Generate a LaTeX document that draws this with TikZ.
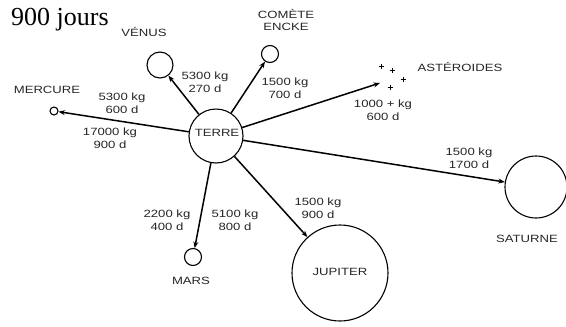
\documentclass[tikz,border=0pt]{standalone}
\usepackage{fontspec}
\setmainfont{Liberation Sans}
\newfontfamily\labfont[FakeStretch=1.25]{Liberation Sans}
\newfontfamily\titlefont{Liberation Serif}
\usetikzlibrary{arrows.meta}
\begin{document}
\begin{tikzpicture}[x=1pt,y=-1pt,
  planet/.style={draw, circle, inner sep=0pt, line width=1.1pt},
  lab/.style={font=\labfont\fontsize{10.5}{12.5}\selectfont, align=center, inner sep=0pt, text=black!85},
  arr/.style={line width=1.5pt, -{Stealth[length=6.5pt,width=5pt]}}]
\useasboundingbox (0,0) rectangle (566,327);
\fill[white] (0,0) rectangle (566,327);
% title
\node[anchor=base west, font=\titlefont\fontsize{26}{26}\selectfont, inner sep=0pt] (title) at (11,25) {900 jours};
% planets
\node[planet, minimum size=54pt] (terre) at (216,136) {};
\node[lab] (terrelab) at (217,133) {TERRE};
\node[planet, minimum size=26pt] (venus) at (160,65) {};
\node[planet, minimum size=8pt] (mercure) at (54,111) {};
\node[planet, minimum size=17pt] (comete) at (270,54) {};
\node[planet, minimum size=17pt] (mars) at (193,257) {};
\node[planet, minimum size=96pt] (jupiter) at (340,273) {};
\node[planet, minimum size=62pt] (saturne) at (536,187) {};
\coordinate (aster) at (380,83);
% asteroid crosses
\foreach \px/\py in {381/66, 392/70, 403/79, 390/87}
  \draw[line width=0.9pt] (\px-2.5,\py) -- (\px+2.5,\py) (\px,\py-2.5) -- (\px,\py+2.5);
% names
\node[lab] (venuslab) at (144,32) {VÉNUS};
\node[lab] (mercurelab) at (47,90) {MERCURE};
\node[lab] (cometelab) at (286,20) {COMÈTE\\ENCKE};
\node[lab] (asterlab) at (460,67) {ASTÉROIDES};
\node[lab] (saturnelab) at (527,239) {SATURNE};
\node[lab] (jupiterlab) at (340,272) {JUPITER};
\node[lab] (marslab) at (191,281) {MARS};
% arrows
\draw[arr] (terre) -- (mercure);
\draw[arr] (terre) -- (venus);
\draw[arr] (terre) -- (comete);
\draw[arr] (terre) -- (aster);
\draw[arr] (terre) -- (saturne);
\draw[arr] (terre) -- (jupiter);
\draw[arr] (terre) -- (mars);
% values
\node[lab] (v1) at (122,103) {5300 kg\\600 d};
\node[lab] (v2) at (110,138) {17000 kg\\900 d};
\node[lab] (v3) at (205,82) {5300 kg\\270 d};
\node[lab] (v4) at (285,88) {1500 kg\\700 d};
\node[lab] (v5) at (383,110) {1000 + kg\\600 d};
\node[lab] (v6) at (469,158) {1500 kg\\1700 d};
\node[lab] (v7) at (318,208) {1500 kg\\900 d};
\node[lab] (v8) at (235,220) {5100 kg\\800 d};
\node[lab] (v9) at (167,220) {2200 kg\\400 d};
\end{tikzpicture}
\end{document}
